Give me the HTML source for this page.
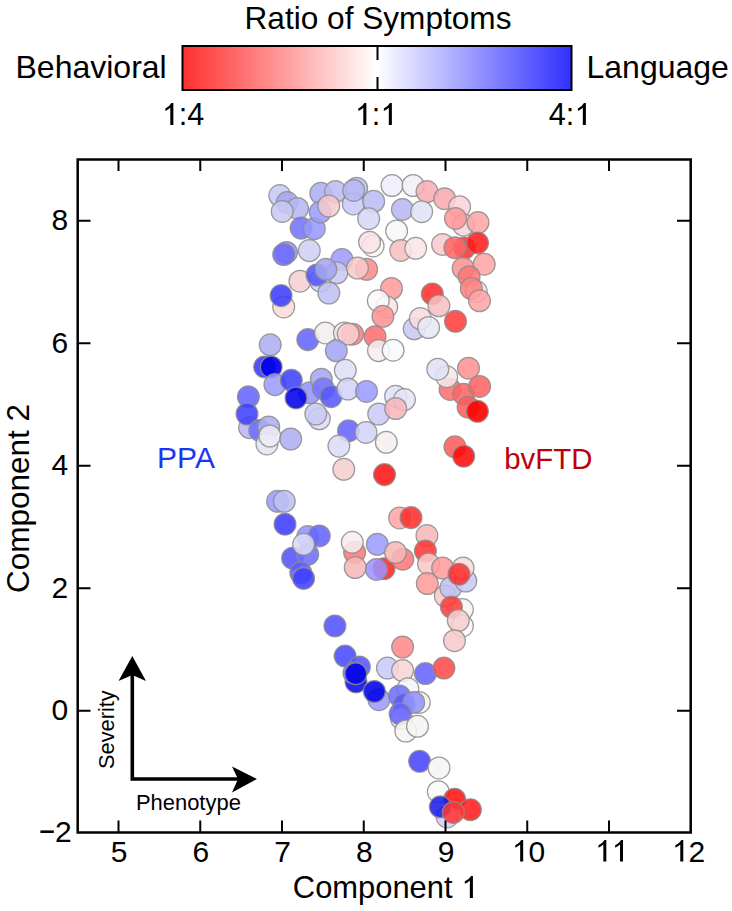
<!DOCTYPE html>
<html><head><meta charset="utf-8">
<style>
html,body{margin:0;padding:0;background:#fff;}
body{width:732px;height:911px;overflow:hidden;}
svg{display:block;}
text{font-family:"Liberation Sans",sans-serif;fill:#000;}
</style></head>
<body>
<svg width="732" height="911" viewBox="0 0 732 911">
<defs>
<linearGradient id="cb" x1="0" x2="1" y1="0" y2="0">
<stop offset="0" stop-color="#ff3030"/>
<stop offset="0.5" stop-color="#ffffff"/>
<stop offset="1" stop-color="#3030ff"/>
</linearGradient>
</defs>
<text x="378" y="29.3" font-size="31.6" text-anchor="middle">Ratio of Symptoms</text>
<text x="15.5" y="78" font-size="32">Behavioral</text>
<text x="586.5" y="78" font-size="32">Language</text>
<rect x="182.5" y="46" width="389" height="44" fill="url(#cb)" stroke="#000" stroke-width="2"/>
<path d="M377.5,46V60M377.5,77V90" stroke="#000" stroke-width="2"/>
<text x="178.75" y="125" font-size="30.6">:4</text>
<path d="M170.30,125.00L173.36,125.00L173.36,103.09L171.46,103.09Q169.99,106.03 165.34,108.48L165.34,110.99Q168.31,109.79 170.30,107.71Z"/>
<text x="371.75" y="125" font-size="30.6">:</text>
<path d="M363.30,125.00L366.36,125.00L366.36,103.09L364.46,103.09Q362.99,106.03 358.34,108.48L358.34,110.99Q361.31,109.79 363.30,107.71ZM388.82,125.00L391.88,125.00L391.88,103.09L389.98,103.09Q388.51,106.03 383.86,108.48L383.86,110.99Q386.83,109.79 388.82,107.71Z"/>
<text x="548.73" y="125" font-size="30.6">4:</text>
<path d="M582.82,125.00L585.88,125.00L585.88,103.09L583.98,103.09Q582.51,106.03 577.86,108.48L577.86,110.99Q580.83,109.79 582.82,107.71Z"/>
<text x="292.84" y="898" font-size="30.9">Component </text>
<path d="M469.83,898.00L472.92,898.00L472.92,875.88L471.00,875.88Q469.52,878.84 464.82,881.31L464.82,883.85Q467.82,882.64 469.83,880.54Z"/>
<g stroke-width="1.25" stroke="#8c8c8c" stroke-opacity="0.85">
<circle cx="279.8" cy="195.6" r="10.9" fill="#c8c9f4" fill-opacity="0.870"/>
<circle cx="287.2" cy="202.6" r="10.9" fill="#a4a6f0" fill-opacity="0.870"/>
<circle cx="297.5" cy="208.4" r="10.9" fill="#b7b7f4" fill-opacity="0.870"/>
<circle cx="282.2" cy="211.4" r="10.9" fill="#c9c9f4" fill-opacity="0.870"/>
<circle cx="301.1" cy="228.1" r="10.9" fill="#7373ff" fill-opacity="0.870"/>
<circle cx="314.3" cy="228.7" r="10.9" fill="#9898ff" fill-opacity="0.870"/>
<circle cx="320.8" cy="193.3" r="10.9" fill="#adadf4" fill-opacity="0.870"/>
<circle cx="320.2" cy="212.1" r="10.9" fill="#9b9bff" fill-opacity="0.870"/>
<circle cx="286.5" cy="252.4" r="10.9" fill="#9292ff" fill-opacity="0.870"/>
<circle cx="283.7" cy="254.5" r="10.9" fill="#6c6cff" fill-opacity="0.870"/>
<circle cx="309.3" cy="250.6" r="10.9" fill="#cfcff4" fill-opacity="0.870"/>
<circle cx="335.5" cy="191.6" r="10.9" fill="#bcbcf4" fill-opacity="0.870"/>
<circle cx="328.8" cy="206" r="10.9" fill="#f4c9cf" fill-opacity="0.870"/>
<circle cx="356.7" cy="188.2" r="10.9" fill="#c0c0f4" fill-opacity="0.870"/>
<circle cx="353.3" cy="203.9" r="10.9" fill="#c9c9f7" fill-opacity="0.870"/>
<circle cx="353.7" cy="190.4" r="10.9" fill="#b7b7f4" fill-opacity="0.870"/>
<circle cx="373.7" cy="201.3" r="10.9" fill="#bcbcf4" fill-opacity="0.870"/>
<circle cx="368.7" cy="218.7" r="10.9" fill="#d7d7f7" fill-opacity="0.870"/>
<circle cx="392" cy="185.5" r="10.9" fill="#eeeef9" fill-opacity="0.870"/>
<circle cx="413.1" cy="185.5" r="10.9" fill="#f0f0f7" fill-opacity="0.870"/>
<circle cx="402.4" cy="209.4" r="10.9" fill="#b7b7f0" fill-opacity="0.870"/>
<circle cx="396.6" cy="231" r="10.9" fill="#f7f7f9" fill-opacity="0.870"/>
<circle cx="373.1" cy="245.9" r="10.9" fill="#f9f9f9" fill-opacity="0.870"/>
<circle cx="369.6" cy="242.2" r="10.9" fill="#f9e1e5" fill-opacity="0.870"/>
<circle cx="400.7" cy="250.4" r="10.9" fill="#f7c0c0" fill-opacity="0.870"/>
<circle cx="342" cy="259.5" r="10.9" fill="#9b9bff" fill-opacity="0.870"/>
<circle cx="464.5" cy="248" r="10.9" fill="#ff2d2d" fill-opacity="0.870"/>
<circle cx="427" cy="191.6" r="10.9" fill="#f7adb2" fill-opacity="0.870"/>
<circle cx="444.6" cy="198.7" r="10.9" fill="#f7aaad" fill-opacity="0.870"/>
<circle cx="459.6" cy="206.7" r="10.9" fill="#f9d2d7" fill-opacity="0.870"/>
<circle cx="463.5" cy="225.1" r="10.9" fill="#f9d4d7" fill-opacity="0.870"/>
<circle cx="455.5" cy="218.4" r="10.9" fill="#ff989b" fill-opacity="0.870"/>
<circle cx="478" cy="222.5" r="10.9" fill="#ffa4a4" fill-opacity="0.870"/>
<circle cx="442.6" cy="244.5" r="10.9" fill="#f9c9cb" fill-opacity="0.870"/>
<circle cx="454.9" cy="247.7" r="10.9" fill="#ff6666" fill-opacity="0.870"/>
<circle cx="477.5" cy="242.9" r="10.9" fill="#ff1d1d" fill-opacity="0.870"/>
<circle cx="421.7" cy="211.7" r="10.9" fill="#e1e1f7" fill-opacity="0.870"/>
<circle cx="415.7" cy="248.3" r="10.9" fill="#fae5e7" fill-opacity="0.870"/>
<circle cx="484.2" cy="264.2" r="10.9" fill="#ffa4a4" fill-opacity="0.870"/>
<circle cx="299.9" cy="281.2" r="10.9" fill="#f7cfd2" fill-opacity="0.870"/>
<circle cx="283.7" cy="306.9" r="10.9" fill="#f9dbdb" fill-opacity="0.870"/>
<circle cx="281.1" cy="295.6" r="10.9" fill="#3c3cff" fill-opacity="0.870"/>
<circle cx="320.5" cy="281" r="10.9" fill="#d2d2f7" fill-opacity="0.870"/>
<circle cx="317" cy="275" r="10.9" fill="#5454ff" fill-opacity="0.870"/>
<circle cx="336.9" cy="272.8" r="10.9" fill="#c9c9f4" fill-opacity="0.870"/>
<circle cx="325.9" cy="269.3" r="10.9" fill="#a4a4f0" fill-opacity="0.870"/>
<circle cx="328.8" cy="293" r="10.9" fill="#c0c0f4" fill-opacity="0.870"/>
<circle cx="270.2" cy="344.8" r="10.9" fill="#adadf0" fill-opacity="0.870"/>
<circle cx="307.8" cy="339.6" r="10.9" fill="#6464ff" fill-opacity="0.870"/>
<circle cx="325.4" cy="332.9" r="10.9" fill="#f4eeee" fill-opacity="0.870"/>
<circle cx="366.6" cy="269.3" r="10.9" fill="#ff8b8b" fill-opacity="0.870"/>
<circle cx="357.5" cy="268" r="10.9" fill="#f7c9cb" fill-opacity="0.870"/>
<circle cx="391.5" cy="288.5" r="10.9" fill="#ff9b9b" fill-opacity="0.870"/>
<circle cx="386.7" cy="306.9" r="10.9" fill="#fae5e5" fill-opacity="0.870"/>
<circle cx="378.3" cy="300.8" r="10.9" fill="#f9f9f9" fill-opacity="0.870"/>
<circle cx="382.9" cy="316.3" r="10.9" fill="#ff9292" fill-opacity="0.870"/>
<circle cx="414.2" cy="328.8" r="10.9" fill="#c9c9f4" fill-opacity="0.870"/>
<circle cx="344.4" cy="332.9" r="10.9" fill="#f4eef4" fill-opacity="0.870"/>
<circle cx="352.6" cy="334.2" r="10.9" fill="#ff7f7f" fill-opacity="0.870"/>
<circle cx="348.2" cy="334" r="10.9" fill="#f7cfd2" fill-opacity="0.870"/>
<circle cx="375.1" cy="336.7" r="10.9" fill="#ff6d6d" fill-opacity="0.870"/>
<circle cx="378.5" cy="350.6" r="10.9" fill="#f7eeee" fill-opacity="0.870"/>
<circle cx="393.1" cy="350.2" r="10.9" fill="#f9f9f9" fill-opacity="0.870"/>
<circle cx="336.3" cy="350.8" r="10.9" fill="#a4a4f4" fill-opacity="0.870"/>
<circle cx="463.1" cy="268.3" r="10.9" fill="#ff9292" fill-opacity="0.870"/>
<circle cx="469.1" cy="276.7" r="10.9" fill="#ff7676" fill-opacity="0.870"/>
<circle cx="476.3" cy="291.6" r="10.9" fill="#e9e5f7" fill-opacity="0.870"/>
<circle cx="471.3" cy="288.5" r="10.9" fill="#ff7f7f" fill-opacity="0.870"/>
<circle cx="479.5" cy="300.8" r="10.9" fill="#ffa4a4" fill-opacity="0.870"/>
<circle cx="432.3" cy="293.9" r="10.9" fill="#ff2d2d" fill-opacity="0.870"/>
<circle cx="438.9" cy="305.8" r="10.9" fill="#f7c0c0" fill-opacity="0.870"/>
<circle cx="455.5" cy="321.3" r="10.9" fill="#ff3c3c" fill-opacity="0.870"/>
<circle cx="420.3" cy="318.5" r="10.9" fill="#f9dbde" fill-opacity="0.870"/>
<circle cx="428.6" cy="327.5" r="10.9" fill="#e8e8f7" fill-opacity="0.870"/>
<circle cx="264.6" cy="366.9" r="10.9" fill="#3636ff" fill-opacity="0.870"/>
<circle cx="271.2" cy="367" r="10.9" fill="#0000ea" fill-opacity="0.919"/>
<circle cx="274.9" cy="384.6" r="10.9" fill="#9b9bff" fill-opacity="0.870"/>
<circle cx="291.3" cy="380.2" r="10.9" fill="#3f3fff" fill-opacity="0.870"/>
<circle cx="309.7" cy="392.8" r="10.9" fill="#9292ff" fill-opacity="0.870"/>
<circle cx="296" cy="397.9" r="10.9" fill="#0000e9" fill-opacity="0.876"/>
<circle cx="321.3" cy="379.2" r="10.9" fill="#a4a4f4" fill-opacity="0.870"/>
<circle cx="323.4" cy="388.7" r="10.9" fill="#7676ff" fill-opacity="0.870"/>
<circle cx="319.3" cy="418.8" r="10.9" fill="#dbdbf7" fill-opacity="0.870"/>
<circle cx="315.8" cy="414" r="10.9" fill="#c9c9f4" fill-opacity="0.870"/>
<circle cx="249.6" cy="427.6" r="10.9" fill="#b7b7f4" fill-opacity="0.870"/>
<circle cx="248.4" cy="396.8" r="10.9" fill="#6464ff" fill-opacity="0.870"/>
<circle cx="247" cy="414" r="10.9" fill="#3f3fff" fill-opacity="0.870"/>
<circle cx="259.8" cy="430.4" r="10.9" fill="#6d6dff" fill-opacity="0.870"/>
<circle cx="268.7" cy="427" r="10.9" fill="#adadf4" fill-opacity="0.870"/>
<circle cx="266.9" cy="443.9" r="10.9" fill="#e5e5f7" fill-opacity="0.870"/>
<circle cx="269.8" cy="436" r="10.9" fill="#eeebf4" fill-opacity="0.870"/>
<circle cx="290.7" cy="439" r="10.9" fill="#adadf4" fill-opacity="0.870"/>
<circle cx="345.3" cy="370.3" r="10.9" fill="#dedef7" fill-opacity="0.870"/>
<circle cx="331.1" cy="396.6" r="10.9" fill="#5656ff" fill-opacity="0.870"/>
<circle cx="347.9" cy="389" r="10.9" fill="#d2d2f7" fill-opacity="0.870"/>
<circle cx="366.5" cy="391.4" r="10.9" fill="#9b9bff" fill-opacity="0.870"/>
<circle cx="378.7" cy="414" r="10.9" fill="#c9c9f7" fill-opacity="0.870"/>
<circle cx="395.6" cy="396.2" r="10.9" fill="#e1e1f7" fill-opacity="0.870"/>
<circle cx="404.5" cy="399.6" r="10.9" fill="#e5e5f7" fill-opacity="0.870"/>
<circle cx="395.7" cy="408.5" r="10.9" fill="#f7b7bc" fill-opacity="0.870"/>
<circle cx="348.5" cy="430.8" r="10.9" fill="#6464ff" fill-opacity="0.870"/>
<circle cx="366" cy="432.4" r="10.9" fill="#d2d2f7" fill-opacity="0.870"/>
<circle cx="386.3" cy="442.3" r="10.9" fill="#f7eeee" fill-opacity="0.870"/>
<circle cx="338.9" cy="446.1" r="10.9" fill="#dbdbf7" fill-opacity="0.870"/>
<circle cx="468.5" cy="368.2" r="10.9" fill="#ff9292" fill-opacity="0.870"/>
<circle cx="450.1" cy="389.4" r="10.9" fill="#ff6d6d" fill-opacity="0.870"/>
<circle cx="446.7" cy="376.7" r="10.9" fill="#f7e7e7" fill-opacity="0.870"/>
<circle cx="437.8" cy="369.2" r="10.9" fill="#e1e1f7" fill-opacity="0.870"/>
<circle cx="463.7" cy="394.2" r="10.9" fill="#ff6464" fill-opacity="0.870"/>
<circle cx="479.6" cy="386.4" r="10.9" fill="#ff6464" fill-opacity="0.870"/>
<circle cx="468.1" cy="407.2" r="10.9" fill="#ff5b5b" fill-opacity="0.870"/>
<circle cx="477.4" cy="411.3" r="10.9" fill="#ff0000" fill-opacity="0.907"/>
<circle cx="454.9" cy="446.8" r="10.9" fill="#ff5b5b" fill-opacity="0.870"/>
<circle cx="277.6" cy="501.3" r="10.9" fill="#9b9bff" fill-opacity="0.870"/>
<circle cx="284.3" cy="501.3" r="10.9" fill="#c0c0f4" fill-opacity="0.870"/>
<circle cx="285" cy="524.2" r="10.9" fill="#3c3cff" fill-opacity="0.870"/>
<circle cx="343.8" cy="469.3" r="10.9" fill="#f7cfcf" fill-opacity="0.870"/>
<circle cx="384.5" cy="474.6" r="10.9" fill="#ff1111" fill-opacity="0.870"/>
<circle cx="399.6" cy="517.9" r="10.9" fill="#ffa4a4" fill-opacity="0.870"/>
<circle cx="411" cy="517.6" r="10.9" fill="#ff2d2d" fill-opacity="0.870"/>
<circle cx="463.7" cy="456.2" r="10.9" fill="#ff0808" fill-opacity="0.870"/>
<circle cx="307.7" cy="536.6" r="10.9" fill="#9292ff" fill-opacity="0.870"/>
<circle cx="319.3" cy="535.9" r="10.9" fill="#6464ff" fill-opacity="0.870"/>
<circle cx="292.6" cy="558.2" r="10.9" fill="#5151ff" fill-opacity="0.870"/>
<circle cx="307.7" cy="554.4" r="10.9" fill="#6d6dff" fill-opacity="0.870"/>
<circle cx="303.6" cy="544.3" r="10.9" fill="#dbdbf7" fill-opacity="0.870"/>
<circle cx="300.8" cy="572.8" r="10.9" fill="#5b5bff" fill-opacity="0.870"/>
<circle cx="303.6" cy="578.4" r="10.9" fill="#3f3fff" fill-opacity="0.870"/>
<circle cx="354.6" cy="552.3" r="10.9" fill="#ff7676" fill-opacity="0.870"/>
<circle cx="352.3" cy="542.3" r="10.9" fill="#f7eeee" fill-opacity="0.870"/>
<circle cx="355.2" cy="567.5" r="10.9" fill="#f7b7b7" fill-opacity="0.870"/>
<circle cx="377.3" cy="544.3" r="10.9" fill="#9b9bff" fill-opacity="0.870"/>
<circle cx="384" cy="568.7" r="10.9" fill="#ff2323" fill-opacity="0.870"/>
<circle cx="376.5" cy="569.4" r="10.9" fill="#9b92ff" fill-opacity="0.870"/>
<circle cx="402.8" cy="559.2" r="10.9" fill="#ff7676" fill-opacity="0.870"/>
<circle cx="395.5" cy="552.5" r="10.9" fill="#f7b7b7" fill-opacity="0.870"/>
<circle cx="426.9" cy="535.6" r="10.9" fill="#f7b7b7" fill-opacity="0.870"/>
<circle cx="425.4" cy="551" r="10.9" fill="#ff3636" fill-opacity="0.870"/>
<circle cx="428.5" cy="563.9" r="10.9" fill="#f7c9c9" fill-opacity="0.870"/>
<circle cx="442.6" cy="568" r="10.9" fill="#ff9b9b" fill-opacity="0.870"/>
<circle cx="427.3" cy="583.5" r="10.9" fill="#ff9b9b" fill-opacity="0.870"/>
<circle cx="445.3" cy="596" r="10.9" fill="#f7c9c9" fill-opacity="0.870"/>
<circle cx="450.8" cy="587.8" r="10.9" fill="#c0c0f4" fill-opacity="0.870"/>
<circle cx="465.8" cy="581" r="10.9" fill="#c9c9f7" fill-opacity="0.870"/>
<circle cx="463.1" cy="568" r="10.9" fill="#f7dbdb" fill-opacity="0.870"/>
<circle cx="459" cy="574.2" r="10.9" fill="#ff2d2d" fill-opacity="0.870"/>
<circle cx="462.4" cy="609.6" r="10.9" fill="#f9f4f4" fill-opacity="0.870"/>
<circle cx="451.4" cy="607.1" r="10.9" fill="#ff3c3c" fill-opacity="0.870"/>
<circle cx="334.9" cy="625.9" r="10.9" fill="#5151ff" fill-opacity="0.870"/>
<circle cx="345.1" cy="656.1" r="10.9" fill="#4848ff" fill-opacity="0.870"/>
<circle cx="359.4" cy="666.9" r="10.9" fill="#5454ff" fill-opacity="0.870"/>
<circle cx="356" cy="681.9" r="10.9" fill="#0808e9" fill-opacity="0.870"/>
<circle cx="353.9" cy="673.1" r="10.9" fill="#6d6dff" fill-opacity="0.870"/>
<circle cx="355.8" cy="673.7" r="10.9" fill="#0000ea" fill-opacity="0.907"/>
<circle cx="378.9" cy="699.7" r="10.9" fill="#9b9bff" fill-opacity="0.870"/>
<circle cx="374.4" cy="691.5" r="10.9" fill="#0000e9" fill-opacity="0.876"/>
<circle cx="387.4" cy="668.1" r="10.9" fill="#c9c9f7" fill-opacity="0.870"/>
<circle cx="402.6" cy="647" r="10.9" fill="#ff8989" fill-opacity="0.870"/>
<circle cx="402.6" cy="670.5" r="10.9" fill="#f7d4d4" fill-opacity="0.870"/>
<circle cx="462.4" cy="625.9" r="10.9" fill="#f9f9f9" fill-opacity="0.870"/>
<circle cx="458.3" cy="620.5" r="10.9" fill="#f7cfcf" fill-opacity="0.870"/>
<circle cx="454.5" cy="640.7" r="10.9" fill="#f7c9c9" fill-opacity="0.870"/>
<circle cx="425.4" cy="673.6" r="10.9" fill="#6464ff" fill-opacity="0.870"/>
<circle cx="443.9" cy="668.1" r="10.9" fill="#ff4848" fill-opacity="0.870"/>
<circle cx="407.9" cy="688.8" r="10.9" fill="#f4f4f9" fill-opacity="0.870"/>
<circle cx="419.3" cy="702.4" r="10.9" fill="#f7f4ee" fill-opacity="0.870"/>
<circle cx="399.5" cy="696" r="10.9" fill="#6d6dff" fill-opacity="0.870"/>
<circle cx="404.2" cy="704.3" r="10.9" fill="#5b5bff" fill-opacity="0.870"/>
<circle cx="413.7" cy="702.4" r="10.9" fill="#9292ff" fill-opacity="0.870"/>
<circle cx="401.5" cy="718.7" r="10.9" fill="#e5e5f7" fill-opacity="0.870"/>
<circle cx="400.1" cy="713.9" r="10.9" fill="#6464ff" fill-opacity="0.870"/>
<circle cx="405.8" cy="731" r="10.9" fill="#f7f4f4" fill-opacity="0.870"/>
<circle cx="417.5" cy="726.3" r="10.9" fill="#f7f4f4" fill-opacity="0.870"/>
<circle cx="419.6" cy="761.3" r="10.9" fill="#4444ff" fill-opacity="0.870"/>
<circle cx="439" cy="767.9" r="10.9" fill="#f7f4f4" fill-opacity="0.870"/>
<circle cx="438.3" cy="791.7" r="10.9" fill="#f9f9f9" fill-opacity="0.870"/>
<circle cx="454.6" cy="799.2" r="10.9" fill="#ff1111" fill-opacity="0.870"/>
<circle cx="470.4" cy="809.7" r="10.9" fill="#ff1a1a" fill-opacity="0.870"/>
<circle cx="447.1" cy="816.9" r="10.9" fill="#dbc9f4" fill-opacity="0.870"/>
<circle cx="440.3" cy="806.8" r="10.9" fill="#1a1ae9" fill-opacity="0.870"/>
<circle cx="453.3" cy="812.4" r="10.9" fill="#ff3636" fill-opacity="0.870"/>
</g>

<g stroke="#000" fill="none">
<rect x="77.7" y="159.5" width="613" height="673" stroke-width="2.5"/>
<path d="M118.5,832V820.5M118.5,160V171M200.25,832V820.5M200.25,160V171M282.0,832V820.5M282.0,160V171M363.75,832V820.5M363.75,160V171M445.5,832V820.5M445.5,160V171M527.25,832V820.5M527.25,160V171M609.0,832V820.5M609.0,160V171M78.5,710.7H90.5M690,710.7H677M78.5,588.2H90.5M690,588.2H677M78.5,465.7H90.5M690,465.7H677M78.5,343.2H90.5M690,343.2H677M78.5,220.7H90.5M690,220.7H677" stroke-width="2"/>
</g>
<g font-size="29">
<text x="110.66" y="861.5" font-size="30">5</text>
<text x="192.41" y="861.5" font-size="30">6</text>
<text x="274.16" y="861.5" font-size="30">7</text>
<text x="355.91" y="861.5" font-size="30">8</text>
<text x="437.66" y="861.5" font-size="30">9</text>
<text x="528.45" y="861.5" font-size="30">0</text>
<path d="M520.17,861.50L523.17,861.50L523.17,840.02L521.31,840.02Q519.87,842.90 515.31,845.30L515.31,847.76Q518.22,846.59 520.17,844.55Z"/>
<path d="M603.33,861.50L606.33,861.50L606.33,840.02L604.47,840.02Q603.03,842.90 598.47,845.30L598.47,847.76Q601.38,846.59 603.33,844.55ZM620.01,861.50L623.01,861.50L623.01,840.02L621.15,840.02Q619.71,842.90 615.15,845.30L615.15,847.76Q618.06,846.59 620.01,844.55Z"/>
<text x="688.55" y="861.5" font-size="30">2</text>
<path d="M680.27,861.50L683.27,861.50L683.27,840.02L681.41,840.02Q679.97,842.90 675.41,845.30L675.41,847.76Q678.32,846.59 680.27,844.55Z"/>
</g>
<g font-size="30" text-anchor="end">
<text x="71.8" y="841.5999999999999">2</text>
<text x="68.3" y="720.3">0</text>
<text x="68.3" y="597.8">2</text>
<text x="68.3" y="475.3">4</text>
<text x="68.3" y="352.8">6</text>
<text x="68.3" y="230.3">8</text>
<rect x="40.4" y="830.4" width="13.4" height="2.6" fill="#000"/>
</g>

<text transform="translate(29,498.5) rotate(-90)" font-size="31.5" text-anchor="middle">Component 2</text>
<text x="186" y="468" font-size="30" text-anchor="middle" style="fill:#1a36f2">PPA</text>
<text x="548.3" y="469.3" font-size="29.4" text-anchor="middle" style="fill:#bc0008">bvFTD</text>
<path d="M132.3,672V779H245" stroke="#000" stroke-width="3.6" fill="none"/>
<path d="M132.3,656L146,681L132.3,675L118.5,681Z" fill="#000"/>
<path d="M257,779L232,766.5L238,779L232,792.5Z" fill="#000"/>
<text transform="translate(114.2,729.6) rotate(-90)" font-size="21.8" text-anchor="middle">Severity</text>
<text x="188.4" y="810" font-size="21.95" text-anchor="middle">Phenotype</text>
</svg>
</body></html>
